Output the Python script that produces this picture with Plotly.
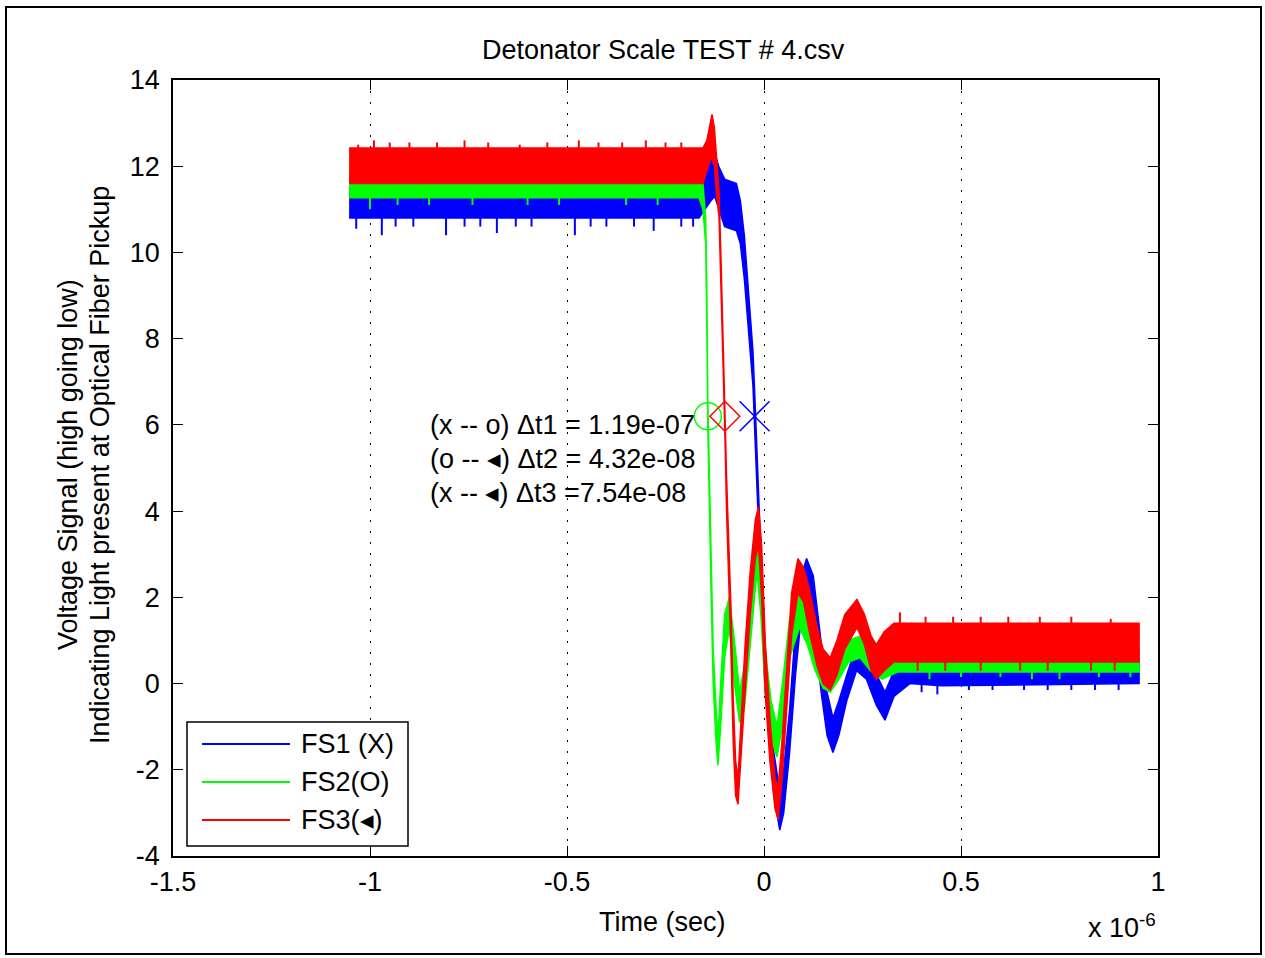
import numpy as np
import plotly.graph_objects as go

# ---------------- data (time in microseconds, voltage in V) ----------------
series_names = ["FS1 (X)", "FS2(O)", "FS3(◂)"]
series_colors = ["#0000ff", "#00ff00", "#ff0000"]

fs1_t = [-1.053, -0.165, -0.15, -0.135, -0.125, -0.115, -0.10, -0.07, -0.06, -0.05, -0.043,
         -0.036, -0.028, -0.023, -0.018, -0.012, -0.005, 0.002, 0.01, 0.025, 0.04, 0.05,
         0.065, 0.08, 0.095, 0.108, 0.125, 0.145, 0.16, 0.175, 0.19, 0.21, 0.235, 0.26,
         0.285, 0.307, 0.33, 0.37, 0.45, 0.952]
fs1_lo = [10.8, 10.8, 11.0, 11.2, 11.3, 11.0, 10.6, 10.5, 10.2, 9.4, 8.7,
          7.8, 6.9, 5.9, 4.5, 3.2, 1.6, 0.0, -1.0, -2.6, -3.4, -3.0,
          -1.6, 0.2, 1.6, 2.0, 1.5, -0.2, -1.2, -1.6, -1.2, -0.4, 0.3, 0.1,
          -0.5, -0.85, -0.3, 0.0, -0.05, 0.0]
fs1_hi = [11.5, 11.5, 11.8, 12.1, 12.3, 12.0, 11.7, 11.6, 11.2, 10.4, 9.5,
          8.6, 7.7, 6.6, 5.3, 4.0, 2.6, 1.0, -0.2, -1.6, -2.5, -2.0,
          -0.6, 1.3, 2.5, 2.9, 2.5, 0.9, -0.2, -0.8, -0.4, 0.2, 0.9, 0.7,
          0.2, -0.2, 0.3, 0.55, 0.55, 0.55]

fs2_t = [-1.053, -0.165, -0.155, -0.148, -0.145, -0.1425, -0.139, -0.134, -0.129, -0.122,
         -0.117, -0.110, -0.100, -0.088, -0.075, -0.062, -0.050, -0.035, -0.018, -0.008,
         0.003, 0.018, 0.033, 0.048, 0.065, 0.090, 0.11, 0.13, 0.15, 0.168, 0.19, 0.215,
         0.244, 0.27, 0.30, 0.34, 0.952]
fs2_lo = [11.27, 11.27, 11.0, 10.2, 8.2, 5.9, 4.2, 2.0, 0.0, -1.3,
          -1.9, -1.0, 0.6, 1.3, 0.0, -0.9, -0.6, 0.8, 2.6, 1.6,
          -0.2, -1.3, -1.7, -0.9, 0.6, 1.3, 0.9, 0.3, -0.1, -0.2, 0.1, 0.5,
          0.6, 0.3, 0.1, 0.27, 0.27]
fs2_hi = [11.85, 11.85, 11.6, 10.8, 9.0, 6.5, 5.0, 3.0, 0.8, -0.5,
          -1.3, 0.0, 1.6, 2.0, 1.0, -0.2, 0.4, 1.8, 3.3, 2.6,
          0.8, -0.4, -1.0, 0.1, 1.5, 2.1, 1.7, 1.1, 0.6, 0.3, 0.7, 1.0,
          1.1, 0.9, 0.6, 0.8, 0.8]

fs3_t = [-1.053, -0.155, -0.145, -0.138, -0.132, -0.126, -0.120, -0.114, -0.109, -0.105,
         -0.0995, -0.095, -0.090, -0.084, -0.078, -0.072, -0.066, -0.058, -0.048, -0.035,
         -0.022, -0.014, -0.006, 0.003, 0.015, 0.028, 0.036, 0.046, 0.058, 0.07, 0.086,
         0.10, 0.115, 0.135, 0.150, 0.168, 0.185, 0.205, 0.236, 0.255, 0.272, 0.285,
         0.305, 0.33, 0.952]
fs3_lo = [11.6, 11.6, 11.9, 12.1, 12.2, 12.0, 11.3, 10.8, 9.2, 7.6,
          5.9, 4.0, 2.4, 0.8, -1.4, -2.6, -2.8, -1.8, -0.2, 1.6,
          2.9, 3.2, 2.0, -0.2, -1.8, -2.9, -3.16, -2.2, -0.6, 1.1, 2.1,
          1.9, 1.2, 0.4, 0.0, -0.15, 0.2, 0.8, 1.3, 0.9, 0.3, 0.1,
          0.3, 0.5, 0.5]
fs3_hi = [12.42, 12.42, 12.6, 12.9, 13.2, 12.9, 12.2, 11.4, 9.8, 8.2,
          6.5, 4.8, 3.4, 1.8, -0.4, -1.8, -2.2, -0.8, 0.9, 2.6,
          3.8, 4.1, 3.2, 1.0, -0.8, -2.2, -2.4, -1.3, 0.4, 2.1, 2.9,
          2.7, 2.2, 1.3, 0.8, 0.6, 1.0, 1.6, 1.95, 1.6, 1.1, 0.9,
          1.2, 1.4, 1.4]

# noise spikes
fs1_spike_t = [-1.035, -0.97, -0.935, -0.89, -0.807, -0.76, -0.72, -0.678, -0.63, -0.59,
               -0.48, -0.44, -0.40, -0.33, -0.28, -0.21, -0.18,
               0.40, 0.44, 0.52, 0.58, 0.66, 0.72, 0.78, 0.84, 0.90]
fs1_spike_v = [10.55, 10.4, 10.6, 10.6, 10.4, 10.6, 10.6, 10.45, 10.6, 10.6,
               10.4, 10.6, 10.6, 10.6, 10.5, 10.6, 10.6,
               -0.2, -0.25, -0.15, -0.15, -0.15, -0.15, -0.15, -0.15, -0.15]
fs2_spike_t = [-1.0, -0.93, -0.85, -0.74, -0.6, -0.52, -0.35, -0.27, 0.42, 0.5, 0.6, 0.68,
               0.75, 0.85, 0.93]
fs2_spike_v = [11.0, 11.1, 11.1, 11.1, 11.1, 11.1, 11.1, 11.1, 0.1, 0.15, 0.15, 0.1,
               0.1, 0.15, 0.15]
fs3_spike_t = [-1.03, -0.99, -0.95, -0.90, -0.83, -0.76, -0.70, -0.62, -0.55, -0.47,
               -0.42, -0.36, -0.30, -0.25, -0.21,
               0.345, 0.41, 0.48, 0.55, 0.62, 0.70, 0.78, 0.88,
               0.39, 0.46, 0.55, 0.65, 0.72, 0.83, 0.89]
fs3_spike_v = [12.5, 12.6, 12.55, 12.55, 12.55, 12.6, 12.55, 12.5, 12.55, 12.6,
               12.55, 12.55, 12.6, 12.55, 12.55,
               1.65, 1.55, 1.55, 1.55, 1.55, 1.55, 1.55, 1.5,
               0.3, 0.3, 0.3, 0.3, 0.3, 0.3, 0.3]

# 50% crossing markers: X (FS1), O (FS2), diamond (FS3)
marker_t = [-0.0239, -0.1425, -0.0993]
marker_v = [6.2, 6.2, 6.2]
marker_symbols = ["x-thin-open", "circle-open", "diamond-open"]
marker_sizes = [30, 27, 23]

dt_labels = ["(x -- o) Δt1 = 1.19e-07",
             "(o -- ◂) Δt2 = 4.32e-08",
             "(x -- ◂) Δt3 =7.54e-08"]

x_ticks = [-1.5, -1, -0.5, 0, 0.5, 1]
x_tick_text = ["-1.5", "-1", "-0.5", "0", "0.5", "1"]
y_ticks = [-4, -2, 0, 2, 4, 6, 8, 10, 12, 14]
y_tick_text = ["-4", "-2", "0", "2", "4", "6", "8", "10", "12", "14"]

# ---------------- figure ----------------
FONT = "Liberation Sans, Arial, sans-serif"
FS = 27
W, H = 1265, 958
L, R, T, B = 173, 1158, 80, 856


def px(p):
    return (p - L) / (R - L)


def py(p):
    return (B - p) / (B - T)


fig = go.Figure()

envelopes = [(fs1_t, fs1_lo, fs1_hi, fs1_spike_t, fs1_spike_v),
             (fs2_t, fs2_lo, fs2_hi, fs2_spike_t, fs2_spike_v),
             (fs3_t, fs3_lo, fs3_hi, fs3_spike_t, fs3_spike_v)]

for (t, lo, hi, st, sv), color, name in zip(envelopes, series_colors, series_names):
    xs = list(t) + list(t)[::-1]
    ys = list(hi) + list(lo)[::-1]
    fig.add_trace(go.Scatter(x=xs, y=ys, mode="lines", fill="toself", fillcolor=color,
                             line=dict(color=color, width=1.5), name=name,
                             showlegend=False, hoverinfo="skip"))
    lo_i = np.interp(st, t, lo)
    hi_i = np.interp(st, t, hi)
    sx, sy = [], []
    for tt, vv, l_, h_ in zip(st, sv, lo_i, hi_i):
        base = h_ if vv > (l_ + h_) / 2 else l_
        sx += [tt, tt, None]
        sy += [base, vv, None]
    fig.add_trace(go.Scatter(x=sx, y=sy, mode="lines", line=dict(color=color, width=2),
                             showlegend=False, hoverinfo="skip"))

for t, v, sym, size, color in zip(marker_t, marker_v, marker_symbols, marker_sizes, series_colors):
    fig.add_trace(go.Scatter(x=[t], y=[v], mode="markers",
                             marker=dict(symbol=sym, size=size, color=color,
                                         line=dict(color=color, width=1.5)),
                             showlegend=False, hoverinfo="skip"))

annotations = []
for i, txt in enumerate(dt_labels):
    annotations.append(dict(x=px(428), y=py(425 + 34 * i), xref="paper", yref="paper",
                            text=txt, showarrow=False, xanchor="left", yanchor="middle",
                            font=dict(family=FONT, size=FS, color="black")))

annotations += [
    dict(x=px(663), y=py(50), xref="paper", yref="paper", text="Detonator Scale TEST # 4.csv",
         showarrow=False, xanchor="center", yanchor="middle",
         font=dict(family=FONT, size=FS, color="black")),
    dict(x=px(662), y=py(922), xref="paper", yref="paper", text="Time (sec)",
         showarrow=False, xanchor="center", yanchor="middle",
         font=dict(family=FONT, size=FS, color="black")),
    dict(x=px(1158), y=py(926), xref="paper", yref="paper", text="x 10<sup>-6</sup>",
         showarrow=False, xanchor="right", yanchor="middle",
         font=dict(family=FONT, size=FS, color="black")),
    dict(x=px(68), y=py(465), xref="paper", yref="paper", text="Voltage Signal (high going low)",
         showarrow=False, xanchor="center", yanchor="middle", textangle=-90,
         font=dict(family=FONT, size=FS, color="black")),
    dict(x=px(100), y=py(465), xref="paper", yref="paper",
         text="Indicating Light present at Optical Fiber Pickup",
         showarrow=False, xanchor="center", yanchor="middle", textangle=-90,
         font=dict(family=FONT, size=FS, color="black")),
]

shapes = [
    # outer frame
    dict(type="rect", xref="paper", yref="paper", x0=px(6), x1=px(1261), y0=py(954), y1=py(7),
         line=dict(color="black", width=2), fillcolor="rgba(0,0,0,0)", layer="above"),
    # legend box
    dict(type="rect", xref="paper", yref="paper", x0=px(187), x1=px(408), y0=py(846), y1=py(722),
         line=dict(color="black", width=1.5), fillcolor="white", layer="above"),
]
legend_rows = [744, 782, 820]
for row, name, color in zip(legend_rows, series_names, series_colors):
    shapes.append(dict(type="line", xref="paper", yref="paper", x0=px(202), x1=px(290),
                       y0=py(row), y1=py(row), line=dict(color=color, width=2), layer="above"))
    annotations.append(dict(x=px(299), y=py(row), xref="paper", yref="paper", text=name,
                            showarrow=False, xanchor="left", yanchor="middle",
                            font=dict(family=FONT, size=FS, color="black")))

fig.update_layout(
    width=W, height=H,
    margin=dict(l=L, r=W - R, t=T, b=H - B, pad=0),
    paper_bgcolor="white", plot_bgcolor="white",
    showlegend=False,
    font=dict(family=FONT, size=FS, color="black"),
    annotations=annotations, shapes=shapes,
    xaxis=dict(range=[-1.5, 1], tickvals=x_ticks, ticktext=x_tick_text,
               ticks="inside", ticklen=10, tickwidth=1, tickcolor="black",
               showline=True, linecolor="black", linewidth=1.5, mirror="ticks",
               showgrid=True, gridcolor="black", gridwidth=1, griddash="2px,9px",
               zeroline=False, ticklabelstandoff=1,
               tickfont=dict(family=FONT, size=FS, color="black")),
    yaxis=dict(range=[-4, 14], tickvals=y_ticks, ticktext=y_tick_text,
               ticks="inside", ticklen=10, tickwidth=1, tickcolor="black",
               showline=True, linecolor="black", linewidth=1.5, mirror="ticks",
               showgrid=False, zeroline=False, ticklabelstandoff=6,
               tickfont=dict(family=FONT, size=FS, color="black")),
)

fig.write_html("out.html", config={"displayModeBar": False},
               post_script="document.body.style.margin='0px';document.body.style.padding='0px';")
